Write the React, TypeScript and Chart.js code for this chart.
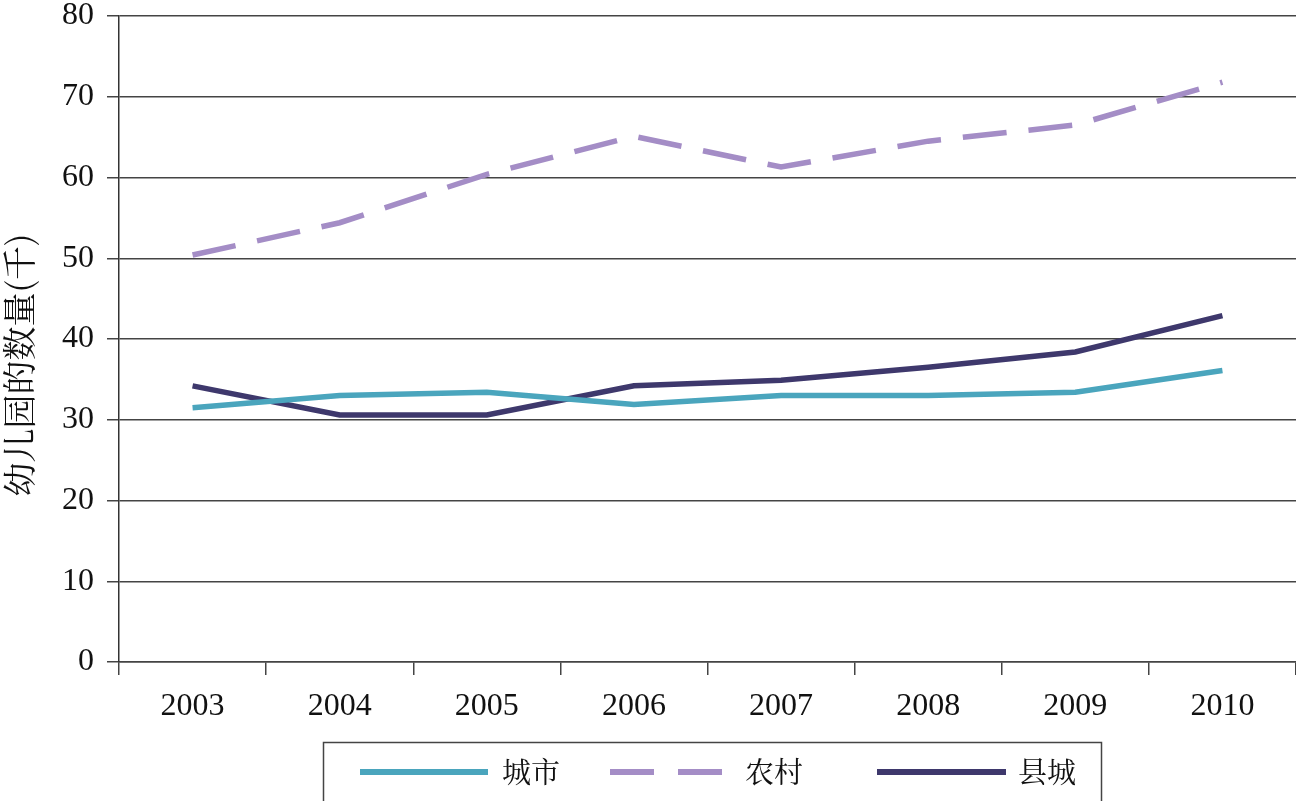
import React, { useEffect, useRef } from "react";
import { Chart, registerables } from "chart.js";

Chart.register(...registerables);

const years = ["2003", "2004", "2005", "2006", "2007", "2008", "2009", "2010"];
const urban = [31.5, 33.0, 33.4, 31.9, 33.0, 33.0, 33.4, 36.1];
const rural = [50.4, 54.4, 60.4, 65.1, 61.3, 64.5, 66.5, 71.8];
const county = [34.2, 30.6, 30.6, 34.2, 34.9, 36.5, 38.4, 42.9];
const seriesNames = ["城市", "农村", "县城"];
const yTitle = "幼儿园的数量(千)";

const COLORS = ["#4aa5bd", "#a48dc6", "#3e386c"];
const SERIF = "'Liberation Serif', 'Times New Roman', serif";
const CJK = "'Noto Serif CJK SC', 'Noto Sans CJK SC', sans-serif";

const extrasPlugin = {
  id: "extras",
  afterDraw(chart: any) {
    const ctx = chart.ctx;
    ctx.save();
    // y-axis title
    ctx.translate(19, 365);
    ctx.rotate(-Math.PI / 2);
    ctx.fillStyle = "#111";
    ctx.font = `34px ${CJK}`;
    ctx.textAlign = "center";
    ctx.textBaseline = "middle";
    ctx.fillText(yTitle, 0, 0);
    ctx.restore();

    // legend box
    ctx.save();
    ctx.strokeStyle = "#444";
    ctx.lineWidth = 1.5;
    ctx.strokeRect(323.5, 742.5, 778, 80);
    const items = [
      { x1: 360, x2: 488, tx: 502 },
      { x1: 610, x2: 724, tx: 745 },
      { x1: 877, x2: 1006, tx: 1018 },
    ];
    const y = 772;
    chart.data.datasets.forEach((ds: any, i: number) => {
      const it = items[i];
      ctx.beginPath();
      ctx.strokeStyle = ds.borderColor;
      ctx.lineWidth = 6;
      ctx.lineCap = "butt";
      ctx.setLineDash(ds.borderDash && ds.borderDash.length ? [44, 24] : []);
      ctx.moveTo(it.x1, y);
      ctx.lineTo(it.x2, y);
      ctx.stroke();
      ctx.setLineDash([]);
      ctx.fillStyle = "#111";
      ctx.font = `29px ${CJK}`;
      ctx.textAlign = "left";
      ctx.textBaseline = "middle";
      ctx.fillText(ds.label, it.tx, y);
    });
    ctx.restore();
  },
};

export default function App() {
  const ref = useRef<HTMLCanvasElement | null>(null);
  useEffect(() => {
    if (!ref.current) return;
    const mk = (label: string, data: number[], color: string, dash: number[]) => ({
      label,
      data,
      borderColor: color,
      backgroundColor: color,
      borderWidth: 5.5,
      borderDash: dash,
      borderDashOffset: 0,
      pointRadius: 0,
      tension: 0,
      fill: false,
    });
    const chart = new Chart(ref.current, {
      type: "line",
      data: {
        labels: years,
        datasets: [
          mk(seriesNames[0], urban, COLORS[0], []),
          mk(seriesNames[1], rural, COLORS[1], [44, 22]),
          mk(seriesNames[2], county, COLORS[2], []),
        ],
      },
      options: {
        responsive: false,
        animation: false,
        layout: { padding: { top: 16, left: 0, right: 0, bottom: 0 } },
        plugins: { legend: { display: false }, tooltip: { enabled: false } },
        scales: {
          x: {
            offset: true,
            grid: {
              offset: true,
              drawOnChartArea: false,
              drawTicks: true,
              tickLength: 13,
              color: "#444",
              lineWidth: 1.5,
            },
            border: { display: true, color: "#444", width: 1.5 },
            ticks: {
              color: "#111",
              font: { family: SERIF, size: 32 },
              padding: 12,
              maxRotation: 0,
            },
            afterFit: (s: any) => {
              s.height = 139;
              s.paddingLeft = 0;
              s.paddingRight = 0;
            },
          },
          y: {
            min: 0,
            max: 80,
            grid: {
              color: "#444",
              lineWidth: 1.5,
              drawTicks: true,
              tickLength: 12,
            },
            border: { display: true, color: "#333", width: 1.5 },
            ticks: {
              stepSize: 10,
              color: "#111",
              font: { family: SERIF, size: 32 },
              padding: 13,
            },
            afterFit: (s: any) => {
              s.width = 119;
              s.paddingTop = 0;
              s.paddingBottom = 0;
            },
          },
        },
      },
      plugins: [extrasPlugin],
    });
    return () => chart.destroy();
  }, []);
  return (
    <div style={{ position: "fixed", left: 0, top: 0, width: 1296, height: 801, background: "#fff" }}>
      <canvas ref={ref} width={1296} height={801} style={{ display: "block", width: 1296, height: 801 }} />
    </div>
  );
}
